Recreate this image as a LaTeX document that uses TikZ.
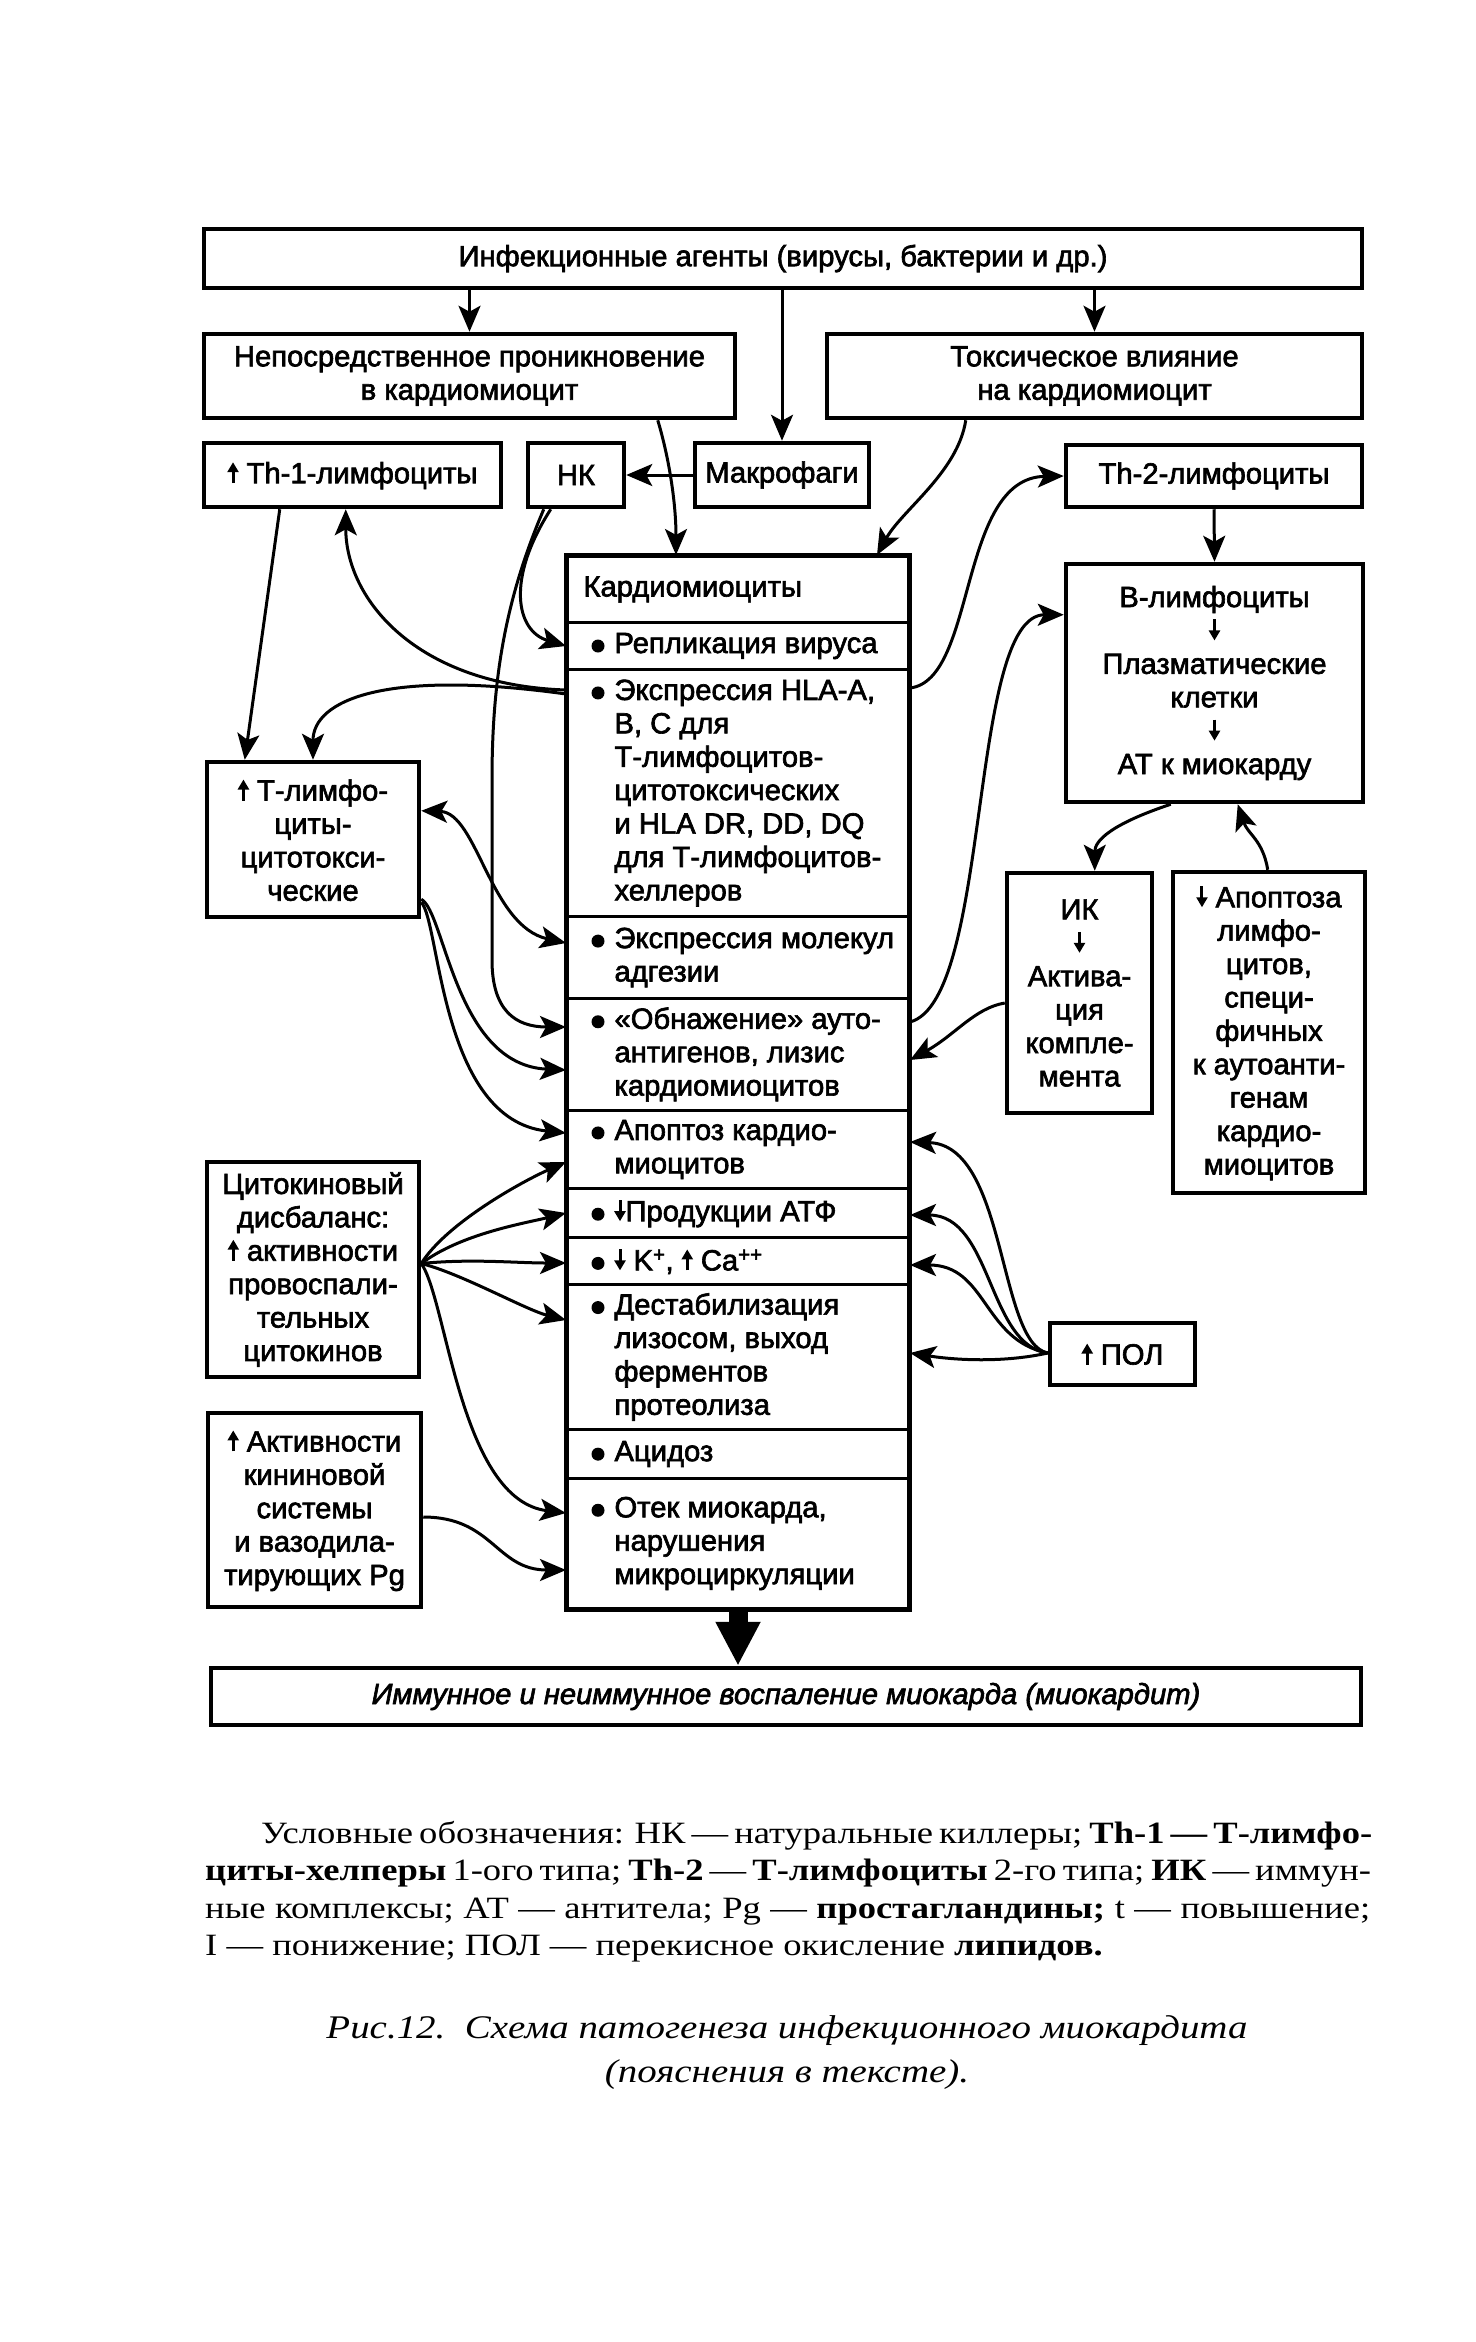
\documentclass[tikz,border=0pt]{standalone}
\usepackage{fontspec}
\setmainfont{Liberation Sans}[FakeBold=2.2]
\newfontfamily\serifleg{Liberation Serif}[FakeStretch=1.18]
\usetikzlibrary{arrows.meta,calc}
\newcommand\bxfont{\fontsize{29.2}{33.4}\selectfont}
\newcommand\legfont{\serifleg\fontsize{31}{37.5}\selectfont}
\newcommand\capfont{\serifleg\itshape\fontsize{33}{44}\selectfont}
\newcommand\bul{\tikz[baseline={(0pt,-7pt)}]\fill (0pt,0pt) circle (6.5pt);}
\newcommand\uar{\tikz[baseline={(0pt,0pt)}]\draw[line width=3pt,-{Triangle[length=10pt,width=11pt]}] (0pt,0pt) -- (0pt,21pt);}
\newcommand\dar{\tikz[baseline={(0pt,0pt)}]\draw[line width=3pt,-{Triangle[length=10pt,width=11pt]}] (0pt,21pt) -- (0pt,0pt);}
\newcommand\brow[1]{\makebox[341pt][l]{\hspace*{24pt}\bul\hspace{10pt}\parbox[t]{292pt}{\raggedright #1}}}
\newcommand\cellrow[4]{\node[cell, minimum height={#3-#2}] (#1) at (566,#2) {#4};}
\tikzset{
  bx/.style={draw, line width=4.5pt, inner sep=0pt, align=center, font=\bxfont},
  cell/.style={draw, line width=3pt, anchor=north west, inner sep=0pt, minimum width=341pt, font=\bxfont},
  tip/.tip={Stealth[length=26pt,width=22pt,inset=6pt]},
  con/.style={line width=3pt, -tip},
  dcon/.style={line width=3pt, tip-tip},
}
\begin{document}
\begin{tikzpicture}[x=1pt,y=-1pt]
\fill[white] (0,0) rectangle (1475,2342);
\useasboundingbox (0,0) rectangle (1475,2342);

% boxes
\node[bx, minimum width=1158pt, minimum height=59pt] (top) at (783,258.5) {Инфекционные агенты (вирусы, бактерии и др.)};
\node[bx, minimum width=531pt, minimum height=84pt] (nep) at (469.5,376) {Непосредственное проникновение\\в кардиомиоцит};
\node[bx, minimum width=535pt, minimum height=84pt] (tox) at (1094.5,376) {Токсическое влияние\\на кардиомиоцит};
\node[bx, minimum width=297pt, minimum height=64pt] (th1) at (352.5,475) {\uar\ Th-1-лимфоциты};
\node[bx, minimum width=96pt, minimum height=64pt] (nk) at (576,475) {НК};
\node[bx, minimum width=174pt, minimum height=64pt] (mac) at (782,475) {Макрофаги};
\node[bx, minimum width=296pt, minimum height=62pt] (th2) at (1214,476) {Th-2-лимфоциты};
\node[bx, minimum width=297pt, minimum height=238pt] (bl) at (1214.5,683) {В-лимфоциты\\\dar\\Плазматические\\клетки\\\dar\\АТ к миокарду};
\node[bx, minimum width=212pt, minimum height=155pt] (tc) at (313,839.5) {\uar\ Т-лимфо-\\циты-\\цитотокси-\\ческие};
\node[bx, minimum width=145pt, minimum height=240pt] (ik) at (1079.5,993) {ИК\\\dar\\Актива-\\ция\\компле-\\мента};
\node[bx, minimum width=192pt, minimum height=321pt] (apl) at (1269,1032.5) {\dar\ Апоптоза\\лимфо-\\цитов,\\специ-\\фичных\\к аутоанти-\\генам\\кардио-\\миоцитов};
\node[bx, minimum width=212pt, minimum height=215pt] (cyt) at (313,1269.5) {Цитокиновый\\дисбаланс:\\\uar\ активности\\провоспали-\\тельных\\цитокинов};
\node[bx, minimum width=145pt, minimum height=62pt] (pol) at (1122.5,1354) {\uar\ ПОЛ};
\node[bx, minimum width=213pt, minimum height=194pt] (kin) at (314.5,1510) {\uar\ Активности\\кининовой\\системы\\и вазодила-\\тирующих Pg};
\node[bx, minimum width=1150pt, minimum height=57pt] (bot) at (786,1696.5) {\itshape Иммунное и неиммунное воспаление миокарда (миокардит)};

% cardiomyocyte column
\cellrow{hdr}{555}{621}{\makebox[341pt][l]{\hspace*{16pt}Кардиомиоциты}}
\cellrow{rep}{621}{668}{\brow{Репликация вируса}}
\cellrow{hla}{668}{915}{\brow{Экспрессия HLA-A,\\В, С для\\Т-лимфоцитов-\\цитотоксических\\и HLA DR, DD, DQ\\для Т-лимфоцитов-\\хеллеров}}
\cellrow{adh}{915}{997}{\brow{Экспрессия молекул\\адгезии}}
\cellrow{obn}{997}{1109}{\brow{«Обнажение» ауто-\\антигенов, лизис\\кардиомиоцитов}}
\cellrow{apo}{1109}{1187}{\brow{Апоптоз кардио-\\миоцитов}}
\cellrow{atf}{1187}{1236}{\brow{\dar Продукции АТФ}}
\cellrow{kca}{1236}{1283}{\brow{\dar\ K\textsuperscript{+}, \uar\ Ca\textsuperscript{++}}}
\cellrow{dest}{1283}{1428}{\brow{Дестабилизация\\лизосом, выход\\ферментов\\протеолиза}}
\cellrow{acid}{1428}{1477}{\brow{Ацидоз}}
\cellrow{otek}{1477}{1607}{\brow{Отек миокарда,\\нарушения\\микроциркуляции}}
\draw[line width=4.5pt] (hdr.north west) rectangle (otek.south east);

% top arrows
\draw[con] (top.south -| nep.north) -- (nep.north);
\draw[con] (top.south -| mac.north) -- (mac.north);
\draw[con] (top.south -| tox.north) -- (tox.north);
\draw[con] (mac.west) -- (nk.east);
\draw[con] (th2.south) -- (bl.north);
\draw[con] ($(nep.south west)+(456,0)$) .. controls +(12,40) and +(0,-50) .. ($(hdr.north west)+(110,0)$);
\draw[con] ($(tox.south west)+(141,0)$) .. controls +(-8,52) and +(25,-45) .. ($(hdr.north west)+(311,0)$);

% left side
\draw[con] ($(th1.south west)+(78,0)$) -- ($(tc.north west)+(40,0)$);
\draw[con] ($(hla.north west)+(0,22)$) .. controls +(-150,-5) and +(0,90) .. ($(th1.south west)+(144,0)$);
\draw[con] ($(hla.north west)+(0,26)$) .. controls +(-180,-25) and +(0,-60) .. (tc.north);
\draw[con] ($(nk.south west)+(25,0)$) .. controls +(-45,70) and +(-50,-15) .. (rep.west);
\draw[con] ($(nk.south west)+(18,0)$) .. controls (505,600) and (492,680) .. (492,780) -- (492,960) .. controls (492,1010) and (515,1027) .. ($(obn.north west)+(0,30)$);
\draw[dcon] ($(tc.north east)+(0,51)$) .. controls +(56,2) and +(-76,-17) .. ($(adh.north west)+(0,28)$);
\draw[con] ($(tc.south east)+(0,-20)$) .. controls +(24,13) and +(-111,-5) .. ($(obn.north west)+(0,73)$);
\draw[con] ($(tc.south east)+(0,-17)$) .. controls +(19,20) and +(-126,-13) .. ($(apo.north west)+(0,24)$);

\coordinate (cf) at ($(cyt.east)+(0,-6)$);
\draw[con] (cf) .. controls +(25,-40) and +(-45,20) .. ($(apo.north west)+(0,53)$);
\draw[con] (cf) .. controls +(40,-30) and +(-40,10) .. ($(atf.north west)+(0,26)$);
\draw[con] (cf) .. controls +(50,-5) and +(-50,0) .. ($(kca.north west)+(0,27)$);
\draw[con] (cf) .. controls +(40,10) and +(-40,-10) .. ($(dest.north west)+(0,37)$);
\draw[con] (cf) .. controls +(26,37) and +(-106,-13) .. ($(otek.north west)+(0,36)$);
\draw[con] ($(kin.east)+(0,7)$) .. controls +(70,0) and +(-70,0) .. ($(otek.north west)+(0,93)$);

% right side
\draw[con] ($(hla.north east)+(0,20)$) .. controls +(67,-8) and +(-106,2) .. (th2.west);
\draw[con] ($(obn.north east)+(0,25)$) .. controls +(82,-22) and +(-96,0) .. ($(bl.north west)+(0,53)$);
\draw[con] ($(bl.south west)+(107,0)$) .. controls +(-60,20) and +(0,-30) .. ($(ik.north west)+(90,0)$);
\draw[con] ($(apl.north west)+(97,0)$) .. controls +(-5,-30) and +(10,30) .. ($(bl.south west)+(174,0)$);
\draw[con] ($(ik.west)+(0,10)$) .. controls +(-30,5) and +(45,-25) .. ($(obn.north east)+(0,63)$);

\coordinate (pf) at ($(pol.west)+(0,-1)$);
\draw[con] (pf) .. controls +(-50,-10) and +(97,3) .. ($(apo.north east)+(0,33)$);
\draw[con] (pf) .. controls +(-60,-8) and +(82,0) .. ($(atf.north east)+(0,28)$);
\draw[con] (pf) .. controls +(-65,-13) and +(77,0) .. ($(kca.north east)+(0,29)$);
\draw[con] (pf) .. controls +(-45,10) and +(45,7) .. ($(dest.north east)+(0,70)$);

% fat arrow
\draw[line width=19pt, -{Triangle[length=44pt,width=42pt]}] (otek.south) -- (otek.south |- bot.north);

% legend
\node[anchor=north west, inner sep=0pt, align=left, font=\legfont] (leg) at (205,1817) {\makebox[1165pt][s]{\strut\hspace*{56pt}Условные обозначения: НК — натуральные киллеры; {\bfseries Th-1 — Т-лимфо-}}\\
\makebox[1165pt][s]{{\bfseries циты-хелперы} 1-ого типа; {\bfseries Th-2} — {\bfseries Т-лимфоциты} 2-го типа; {\bfseries ИК} — иммун-}\\
\makebox[1165pt][s]{ные комплексы; АТ — антитела; Pg — {\bfseries простагландины;} t — повышение;}\\
I — понижение; ПОЛ — перекисное окисление {\bfseries липидов.}};

\node[anchor=base, inner sep=0pt, font=\capfont] (cap1) at (787,2038) {Рис.12.\ \ Схема патогенеза инфекционного миокардита};
\node[anchor=base, inner sep=0pt, font=\capfont] (cap2) at (787,2082) {(пояснения в тексте).};
\end{tikzpicture}
\end{document}
